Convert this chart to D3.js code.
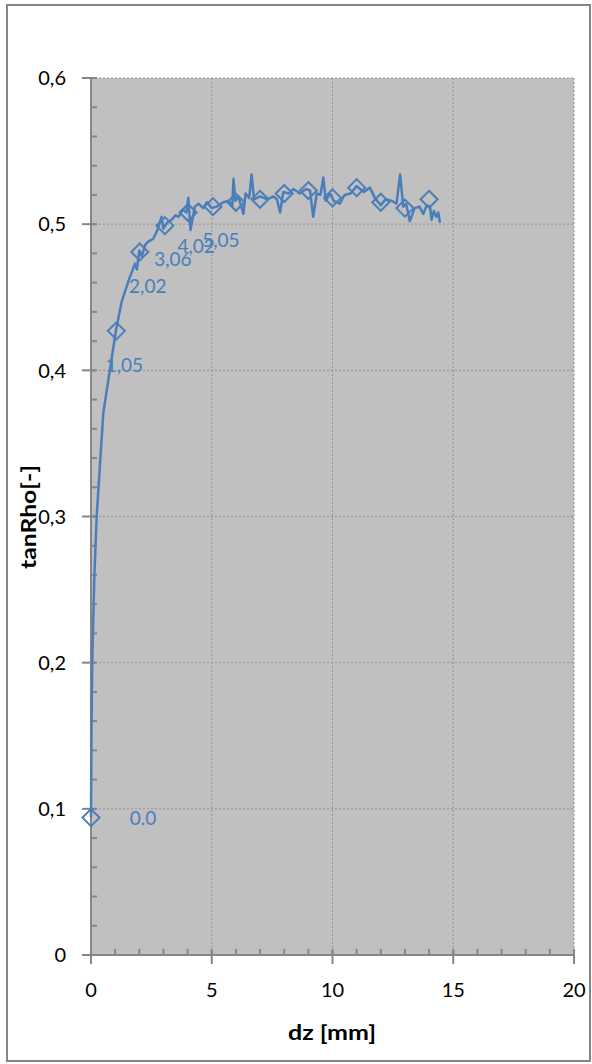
<!DOCTYPE html>
<html><head><meta charset="utf-8">
<script src="https://cdn.jsdelivr.net/npm/d3@7"></script>
<style>html,body{margin:0;padding:0;background:#fff;}svg{display:block;}</style>
</head><body>
<script>
// ---- data ----
const dzLine = [0,0.02,0.05,0.14,0.235,0.37,0.51,1.03,1.27,1.55,1.82,1.9,2.0,2.1,2.25,2.37,2.58,2.75,2.92,3.0,3.15,3.34,3.5,3.62,3.8,3.95,4.03,4.12,4.3,4.45,4.65,4.8,5.0,5.2,5.48,5.7,5.85,5.9,5.98,6.1,6.31,6.4,6.55,6.65,6.75,7.0,7.3,7.55,7.7,7.83,7.96,8.2,8.38,8.65,8.9,9.07,9.2,9.35,9.5,9.62,9.72,9.9,10.05,10.3,10.5,10.75,11.0,11.3,11.55,11.75,12.0,12.2,12.45,12.65,12.8,12.93,13.05,13.2,13.4,13.6,13.76,13.9,14.04,14.1,14.2,14.3,14.38,14.45];
const tanLine = [0.094,0.15,0.2,0.26,0.30,0.335,0.371,0.427,0.447,0.461,0.473,0.469,0.482,0.478,0.486,0.488,0.490,0.496,0.505,0.497,0.501,0.503,0.506,0.505,0.510,0.508,0.518,0.496,0.512,0.514,0.511,0.515,0.511,0.512,0.515,0.516,0.512,0.531,0.516,0.519,0.507,0.521,0.518,0.534,0.517,0.519,0.517,0.519,0.517,0.508,0.522,0.521,0.524,0.521,0.524,0.523,0.505,0.521,0.520,0.532,0.516,0.521,0.516,0.514,0.520,0.521,0.526,0.522,0.525,0.518,0.513,0.517,0.516,0.514,0.534,0.512,0.514,0.502,0.511,0.512,0.507,0.513,0.512,0.503,0.509,0.505,0.508,0.501];
const dzMark = [0,1.05,2.02,3.06,4.02,5.05,6.0,7.0,8.0,9.0,10.0,11.0,12.0,13.0,14.0];
const tanMark = [0.094,0.427,0.481,0.499,0.508,0.512,0.515,0.517,0.521,0.523,0.518,0.525,0.515,0.511,0.517];
const markLabels = ["0.0","1,05","2,02","3,06","4,02","5,05"];
const xTicks = [0,5,10,15,20];
const yTicks = [0,0.1,0.2,0.3,0.4,0.5,0.6];
const yTickLabels = ["0","0,1","0,2","0,3","0,4","0,5","0,6"];
const xTitle = "dz [mm]";
const yTitle = "tanRho[-]";

// ---- layout ----
const W = 592, H = 1064;
const L = 91, R = 574, T = 78, B = 955;
const blue = "#4a7ebb", axisCol = "#868686", font = "Lato, 'Open Sans', sans-serif";

const svg = d3.select("body").append("svg").attr("width", W).attr("height", H);
svg.append("rect").attr("x",0).attr("y",0).attr("width",W).attr("height",H).attr("fill","#fff");
svg.append("rect").attr("x",7).attr("y",5).attr("width",583).attr("height",1056)
  .attr("fill","none").attr("stroke",axisCol).attr("stroke-width",2);

const x = d3.scaleLinear().domain([0,20]).range([L,R]);
const y = d3.scaleLinear().domain([0,0.6]).range([B,T]);

svg.append("rect").attr("x",L).attr("y",T).attr("width",R-L).attr("height",B-T).attr("fill","#c0c0c0");

// gridlines
svg.append("g").selectAll("line").data(yTicks.filter(d=>d>0)).join("line")
  .attr("x1",L).attr("x2",R).attr("y1",d=>y(d)).attr("y2",d=>y(d))
  .attr("stroke","#939393").attr("stroke-width",1).attr("stroke-dasharray","2,2");
svg.append("g").selectAll("line").data(xTicks.filter(d=>d>0)).join("line")
  .attr("x1",d=>x(d)).attr("x2",d=>x(d)).attr("y1",T).attr("y2",B)
  .attr("stroke","#939393").attr("stroke-width",1).attr("stroke-dasharray","2,2");

// y axis
const yMinor = d3.range(0,0.6001,0.02);
svg.append("g").selectAll("line").data(yMinor).join("line")
  .attr("x1",L).attr("x2",L+6).attr("y1",d=>y(d)).attr("y2",d=>y(d))
  .attr("stroke",axisCol).attr("stroke-width",2);
svg.append("g").selectAll("line").data(yTicks).join("line")
  .attr("x1",L-9).attr("x2",L+4).attr("y1",d=>y(d)).attr("y2",d=>y(d))
  .attr("stroke",axisCol).attr("stroke-width",2);
svg.append("line").attr("x1",L).attr("x2",L).attr("y1",T).attr("y2",B+9)
  .attr("stroke",axisCol).attr("stroke-width",2);
svg.append("g").selectAll("text").data(yTicks).join("text")
  .attr("x",L-25).attr("y",d=>y(d)).attr("dy","0.36em").attr("text-anchor","end")
  .attr("font-family",font).attr("font-size",20).attr("fill","#000")
  .text((d,i)=>yTickLabels[i]);

// x axis
const xMinor = d3.range(0,20.001,1);
svg.append("g").selectAll("line").data(xMinor).join("line")
  .attr("x1",d=>x(d)).attr("x2",d=>x(d)).attr("y1",B).attr("y2",B-6)
  .attr("stroke",axisCol).attr("stroke-width",2);
svg.append("g").selectAll("line").data(xTicks).join("line")
  .attr("x1",d=>x(d)).attr("x2",d=>x(d)).attr("y1",B-4).attr("y2",B+9)
  .attr("stroke",axisCol).attr("stroke-width",2);
svg.append("line").attr("x1",L-9).attr("x2",R).attr("y1",B).attr("y2",B)
  .attr("stroke",axisCol).attr("stroke-width",2);
svg.append("g").selectAll("text").data(xTicks).join("text")
  .attr("x",d=>x(d)).attr("y",997).attr("text-anchor","middle")
  .attr("font-family",font).attr("font-size",20).attr("fill","#000")
  .text(d=>d);

// titles
svg.append("text").attr("x",332).attr("y",1040).attr("text-anchor","middle")
  .attr("font-family",font).attr("font-weight","bold").attr("font-size",21)
  .attr("textLength",88).attr("lengthAdjust","spacingAndGlyphs").text(xTitle);
svg.append("text").attr("transform","translate(36,517) rotate(-90)").attr("text-anchor","middle")
  .attr("font-family",font).attr("font-weight","bold").attr("font-size",21)
  .attr("textLength",104).attr("lengthAdjust","spacingAndGlyphs").text(yTitle);

// line
const lineData = dzLine.map((d,i)=>[d,tanLine[i]]);
svg.append("path").datum(lineData)
  .attr("d", d3.line().x(d=>x(d[0])).y(d=>y(d[1])))
  .attr("fill","none").attr("stroke",blue).attr("stroke-width",2.5).attr("stroke-linejoin","round");

// markers
const markData = dzMark.map((d,i)=>({x:d,y:tanMark[i],label:markLabels[i]}));
svg.append("g").selectAll("path").data(markData).join("path")
  .attr("transform",d=>`translate(${x(d.x)},${y(d.y)})`)
  .attr("d","M0,-8.5L8.5,0L0,8.5L-8.5,0Z")
  .attr("fill","none").attr("stroke",blue).attr("stroke-width",2);

// labels
svg.append("g").selectAll("text").data(markData.filter(d=>d.label)).join("text")
  .attr("x",(d,i)=> i===0 ? x(d.x)+52 : x(d.x)+8)
  .attr("y",(d,i)=> i===0 ? y(d.y)+1 : y(d.y)+34)
  .attr("dy","0.35em").attr("text-anchor","middle")
  .attr("font-family",font).attr("font-size",19).attr("fill",blue)
  .text(d=>d.label);
</script>
</body></html>
